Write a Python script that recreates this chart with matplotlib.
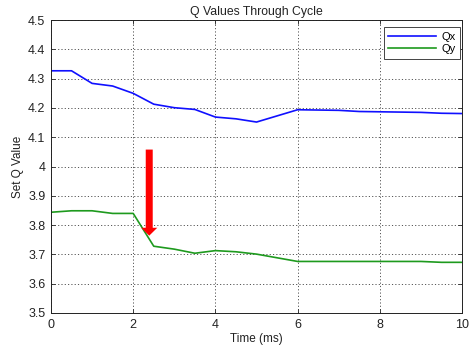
import numpy as np
import matplotlib
matplotlib.use('Agg')
import matplotlib.pyplot as plt

plt.rcParams['font.family'] = ['Liberation Sans', 'DejaVu Sans']

# Qx / Qy through the cycle
time_ms = [0, 0.5, 1, 1.5, 2, 2.5, 3, 3.5, 4, 4.5, 5, 6, 7, 7.5, 8, 9, 9.5, 10]
qx = [4.327, 4.327, 4.284, 4.275, 4.250, 4.213, 4.201, 4.195, 4.169, 4.163, 4.152,
      4.194, 4.192, 4.188, 4.187, 4.185, 4.182, 4.181]
qy = [3.844, 3.849, 3.849, 3.840, 3.840, 3.728, 3.718, 3.704, 3.713, 3.709, 3.701,
      3.676, 3.676, 3.676, 3.676, 3.676, 3.673, 3.673]

x_ticks = [0, 2, 4, 6, 8, 10]
y_ticks = [3.5, 3.6, 3.7, 3.8, 3.9, 4.0, 4.1, 4.2, 4.3, 4.4, 4.5]
y_tick_labels = ['3.5', '3.6', '3.7', '3.8', '3.9', '4', '4.1', '4.2', '4.3', '4.4', '4.5']

# red marker arrow
arrow_x = 2.39
arrow_top = 4.058
arrow_tip = 3.764

fig = plt.figure(figsize=(4.72, 3.47), dpi=100)
ax = fig.add_axes([0.108, 0.098, 0.871, 0.844])

ax.plot(time_ms, qx, color='#1010ff', lw=1.2, label='Qx')
ax.plot(time_ms, qy, color='#1e9a1e', lw=1.2, label='Qy')

head_len = 0.027
ax.arrow(arrow_x, arrow_top, 0, arrow_tip - arrow_top + head_len,
         width=0.17, head_width=0.39, head_length=head_len,
         length_includes_head=False, color='red', lw=0, zorder=5)

ax.set_xlim(0, 10)
ax.set_ylim(3.5, 4.5)
ax.set_xticks(x_ticks)
ax.set_yticks(y_ticks)
ax.set_yticklabels(y_tick_labels)
ax.grid(True, color='#555555', linestyle=(0, (1.2, 2.2)), lw=0.7)
ax.tick_params(direction='in', top=True, right=True, labelsize=9, colors='#222222',
               length=3, width=0.6, pad=4)
for s in ax.spines.values():
    s.set_linewidth(0.7)
    s.set_color('#222222')

ax.set_title('Q Values Through Cycle', fontsize=8.8, color='#222222', pad=4)
ax.set_xlabel('Time (ms)', fontsize=8.5, color='#222222', labelpad=2)
ax.set_ylabel('Set Q Value', fontsize=8.5, color='#222222', labelpad=3)

leg = ax.legend(loc='upper right', bbox_to_anchor=(0.995, 0.976), borderaxespad=0,
                fontsize=8, frameon=True, fancybox=False, framealpha=1,
                handlelength=4.3, labelspacing=0.25, borderpad=0.4, handletextpad=0.5)
leg.get_frame().set_edgecolor('#444444')
leg.get_frame().set_linewidth(0.7)

fig.savefig('out.png', dpi=100)
